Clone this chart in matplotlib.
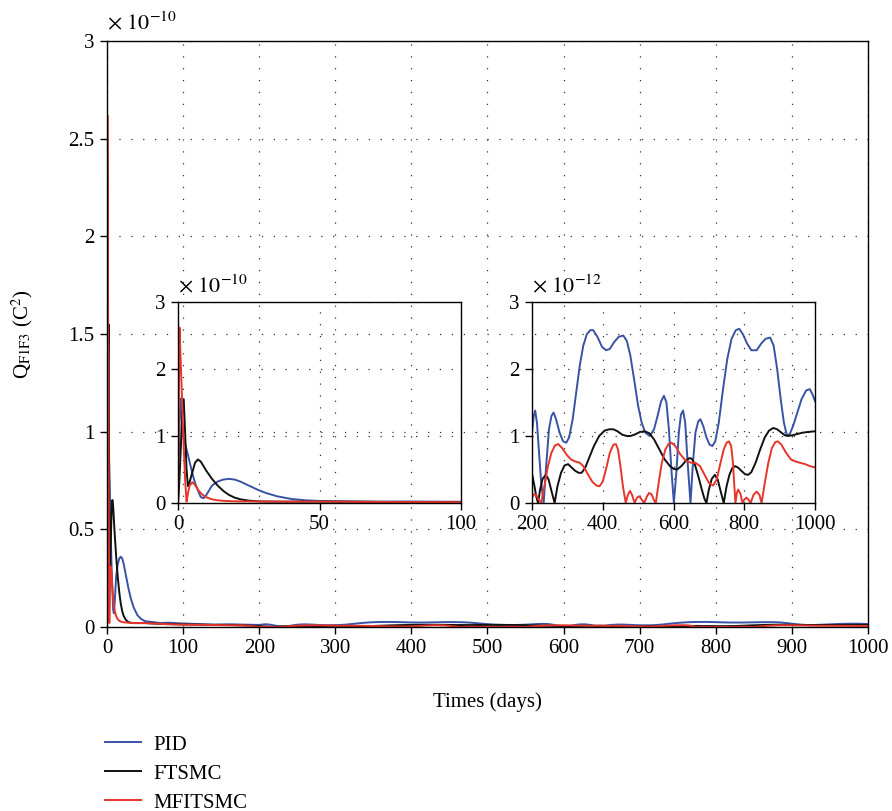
import numpy as np
import matplotlib
matplotlib.use('Agg')
import matplotlib.pyplot as plt

plt.rcParams['font.family'] = ['Liberation Serif', 'DejaVu Serif']
plt.rcParams['mathtext.fontset'] = 'stix'
plt.rcParams['font.size'] = 15

# early transient, values in 1e-10 C^2
t_early = [0, 0.5, 1, 1.5, 2, 2.5, 3, 3.5, 4, 5, 6, 7, 8, 9, 10, 12, 14, 16, 18, 20,
           22, 25, 28, 31, 35, 40, 45, 50, 60, 70, 80, 90, 100, 120, 140, 160, 180]
pid_early = [0, 1.2, 1.56, 1.1, 0.95, 0.88, 0.8, 0.72, 0.63, 0.45, 0.3, 0.19, 0.09, 0.07, 0.12,
             0.26, 0.32, 0.35, 0.36, 0.35, 0.32, 0.26, 0.2, 0.15, 0.1, 0.06, 0.04, 0.03,
             0.025, 0.02, 0.022, 0.02, 0.018, 0.015, 0.012, 0.014, 0.012]
ftsmc_early = [0, 0.35, 0.85, 1.35, 1.55, 1.05, 0.5, 0.25, 0.3, 0.45, 0.6, 0.65, 0.62, 0.55, 0.48,
               0.36, 0.26, 0.18, 0.12, 0.08, 0.055, 0.035, 0.025, 0.022, 0.02, 0.02, 0.02, 0.02,
               0.018, 0.016, 0.015, 0.014, 0.013, 0.012, 0.011, 0.01, 0.008]
mfitsmc_early = [0, 2.62, 2.05, 1.45, 0.85, 0.35, 0.02, 0.14, 0.25, 0.31, 0.27, 0.2, 0.15, 0.11, 0.085,
                 0.055, 0.04, 0.032, 0.028, 0.025, 0.024, 0.023, 0.022, 0.021, 0.02, 0.02, 0.02, 0.02,
                 0.018, 0.016, 0.014, 0.013, 0.012, 0.011, 0.01, 0.009, 0.008]

# steady part, values in 1e-12 C^2
t_pid = [200, 205, 209, 214, 220, 226, 233, 240, 248, 255, 261, 268, 278, 288, 297, 305, 315, 325,
         335, 345, 355, 365, 373, 385, 398, 410, 420, 432, 445, 458, 468, 478, 490, 500, 510, 520,
         533, 545, 555, 565, 573, 580, 587, 594, 601, 608, 615, 621, 627, 633, 640, 648, 655, 662,
         670, 676, 684, 693, 702, 710, 718, 728, 740, 752, 764, 776, 786, 796, 808, 820, 835, 848,
         860, 873, 883, 893, 903, 912, 920, 928, 938, 950, 962, 975, 985, 993, 1000]
pid_late = [1.05, 1.3, 1.38, 1.2, 0.75, 0.3, 0.0, 0.55, 1.1, 1.3, 1.35, 1.25, 1.05, 0.92, 0.9, 0.98,
            1.25, 1.65, 2.05, 2.35, 2.52, 2.58, 2.58, 2.48, 2.33, 2.28, 2.3, 2.4, 2.48, 2.5, 2.42,
            2.2, 1.8, 1.45, 1.2, 1.05, 1.0, 1.1, 1.3, 1.52, 1.6, 1.5, 1.1, 0.5, 0.0, 0.45, 1.05,
            1.32, 1.38, 1.2, 0.6, 0.0, 0.6, 1.05, 1.22, 1.25, 1.15, 0.98, 0.87, 0.85, 0.92, 1.2,
            1.7, 2.15, 2.45, 2.58, 2.6, 2.52, 2.38, 2.28, 2.28, 2.38, 2.45, 2.47, 2.35, 2.0, 1.55,
            1.2, 1.02, 1.02, 1.15, 1.35, 1.55, 1.68, 1.7, 1.62, 1.52]

t_ftsmc = [200, 206, 212, 217, 223, 230, 239, 247, 255, 264, 272, 282, 292, 302, 312, 322, 332, 340,
           350, 362, 375, 390, 405, 418, 430, 442, 455, 468, 478, 490, 505, 519, 532, 545, 560, 575,
           590, 600, 610, 622, 635, 645, 652, 660, 670, 680, 687, 693, 700, 708, 717, 725, 733, 742,
           750, 758, 766, 774, 782, 792, 802, 811, 820, 832, 845, 858, 870, 882, 893, 905, 915, 924,
           935, 950, 965, 980, 1000]
ftsmc_late = [0.44, 0.28, 0.1, 0.0, 0.2, 0.36, 0.42, 0.35, 0.18, 0.0, 0.25, 0.45, 0.56, 0.58, 0.53,
              0.48, 0.45, 0.45, 0.52, 0.68, 0.85, 1.0, 1.08, 1.1, 1.1, 1.07, 1.02, 1.0, 1.0, 1.02,
              1.06, 1.07, 1.04, 0.95, 0.8, 0.65, 0.55, 0.51, 0.5, 0.55, 0.63, 0.67, 0.66, 0.58, 0.4,
              0.2, 0.07, 0.0, 0.2, 0.36, 0.42, 0.35, 0.18, 0.0, 0.25, 0.42, 0.52, 0.55, 0.53, 0.48,
              0.43, 0.42, 0.46, 0.6, 0.8, 0.98, 1.08, 1.12, 1.1, 1.05, 1.01, 1.0, 1.01, 1.03, 1.05,
              1.06, 1.07]

t_mfitsmc = [200, 206, 212, 219, 226, 235, 245, 255, 265, 274, 285, 298, 310, 322, 335, 345, 358, 370,
             382, 391, 400, 410, 420, 430, 437, 443, 450, 457, 465, 471, 477, 483, 490, 497, 503, 509,
             517, 525, 531, 538, 545, 550, 558, 567, 577, 586, 594, 605, 620, 635, 650, 662, 675, 688,
             700, 712, 722, 732, 742, 750, 757, 763, 768, 772, 775, 779, 783, 789, 795, 800, 806, 812,
             818, 826, 835, 843, 849, 858, 868, 878, 888, 895, 905, 918, 932, 945, 958, 972, 986, 1000]
mfitsmc_late = [0.08, 0.13, 0.12, 0.05, 0.0, 0.25, 0.55, 0.75, 0.86, 0.88, 0.82, 0.72, 0.65, 0.62, 0.6,
                0.55, 0.43, 0.32, 0.26, 0.25, 0.32, 0.52, 0.75, 0.87, 0.88, 0.8, 0.55, 0.25, 0.0,
                0.12, 0.18, 0.12, 0.0, 0.08, 0.1, 0.06, 0.0, 0.1, 0.15, 0.13, 0.04, 0.0, 0.3, 0.6,
                0.8, 0.88, 0.9, 0.85, 0.72, 0.63, 0.6, 0.6, 0.55, 0.42, 0.3, 0.26, 0.35, 0.58, 0.8,
                0.9, 0.92, 0.85, 0.6, 0.25, 0.0, 0.15, 0.2, 0.14, 0.0, 0.05, 0.08, 0.05, 0.0, 0.12,
                0.17, 0.12, 0.0, 0.3, 0.6, 0.82, 0.91, 0.92, 0.87, 0.75, 0.65, 0.62, 0.6, 0.58, 0.55,
                0.53]

labels = ['PID', 'FTSMC', 'MFITSMC']
colors = ['#3953a4', '#111111', '#e8352b']

series = []
for te, ve, tl, vl in [(t_early, pid_early, t_pid, pid_late),
                       (t_early, ftsmc_early, t_ftsmc, ftsmc_late),
                       (t_early, mfitsmc_early, t_mfitsmc, mfitsmc_late)]:
    t = np.concatenate([te, tl])
    q = np.concatenate([np.array(ve) * 1e-10, np.array(vl) * 1e-12])
    series.append((t, q))

grid_kw = dict(color='#333333', linestyle=(0, (1, 8.5)), linewidth=0.9)


def style_axes(ax):
    for s in ax.spines.values():
        s.set_linewidth(1.0)
        s.set_color('black')
    ax.tick_params(direction='out', length=5, width=1.0, pad=4, labelsize=15,
                   top=False, right=False)
    ax.grid(True, **grid_kw)
    ax.set_axisbelow(True)


fig = plt.figure(figsize=(8.92, 8.11), dpi=100)

# main axes
ax = fig.add_axes([0.12, 0.2269, 0.853, 0.7225])
for (t, q), c, lab in zip(series, colors, labels):
    ax.plot(t, q * 1e10, color=c, lw=1.4, label=lab)
ax.set_xlim(0, 1000)
ax.set_ylim(0, 3)
ax.set_xticks(np.arange(0, 1001, 100))
ax.set_yticks(np.arange(0, 3.01, 0.5))
ax.set_yticklabels(['%g' % v for v in np.arange(0, 3.01, 0.5)])
style_axes(ax)
ax.set_xlabel('Times (days)', fontsize=15, labelpad=24)
ax.set_ylabel(r'Q$_{\mathrm{F1F3}}$ (C$^{2}$)', fontsize=15, labelpad=24)
ax.annotate(r'$\times\ 10^{-10}$', xy=(0, 1), xycoords='axes fraction',
            xytext=(0, 5), textcoords='offset points', ha='left', va='bottom', fontsize=16)

# inset 1: first 100 days
ax1 = fig.add_axes([0.1996, 0.3798, 0.3173, 0.2478])
ax1.set_facecolor('none')
for (t, q), c in zip(series, colors):
    ax1.plot(t, q * 1e10, color=c, lw=1.4)
ax1.set_xlim(0, 100)
ax1.set_ylim(0, 3)
ax1.set_xticks([0, 50, 100])
ax1.set_yticks([0, 1, 2, 3])
style_axes(ax1)
ax1.annotate(r'$\times\ 10^{-10}$', xy=(0, 1), xycoords='axes fraction',
             xytext=(0, 3), textcoords='offset points', ha='left', va='bottom', fontsize=16)

# inset 2: days 200-1000
ax2 = fig.add_axes([0.5964, 0.3798, 0.3173, 0.2478])
ax2.set_facecolor('none')
for (t, q), c in zip(series, colors):
    ax2.plot(t, q * 1e12, color=c, lw=1.4)
ax2.set_xlim(200, 1000)
ax2.set_ylim(0, 3)
ax2.set_xticks([200, 400, 600, 800, 1000])
ax2.set_yticks([0, 1, 2, 3])
style_axes(ax2)
ax2.annotate(r'$\times\ 10^{-12}$', xy=(0, 1), xycoords='axes fraction',
             xytext=(0, 3), textcoords='offset points', ha='left', va='bottom', fontsize=16)

handles, labs = ax.get_legend_handles_labels()
fig.legend(handles, labs, loc='upper left', bbox_to_anchor=(0.118, 1 - 735 / 811),
           frameon=False, fontsize=15, handlelength=1.7, handletextpad=0.6,
           labelspacing=0.45, borderpad=0, borderaxespad=0)

fig.savefig('out.png', dpi=100)
